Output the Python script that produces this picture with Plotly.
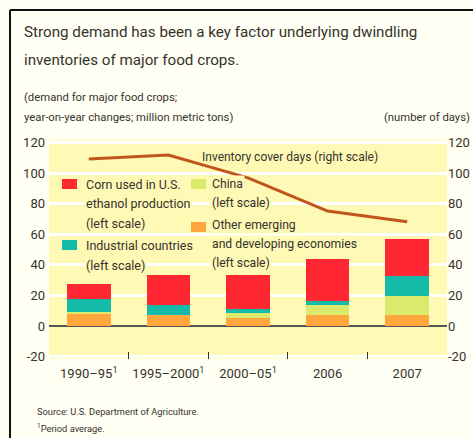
import plotly.graph_objects as go

# ---- data ----
categories = ["1990–95<sup>1</sup>", "1995–2000<sup>1</sup>", "2000–05<sup>1</sup>", "2006", "2007"]
other_emerging = [8.3, 7.0, 5.4, 7.2, 7.2]
china = [0.8, 0.0, 2.9, 6.7, 12.6]
industrial = [8.5, 6.8, 3.0, 2.6, 12.9]
corn_ethanol = [10.0, 19.6, 22.0, 27.1, 24.4]
inventory_days = [109.4, 112.0, 97.0, 75.3, 68.3]
y_ticks = [-20, 0, 20, 40, 60, 80, 100, 120]

# ---- style ----
W, H = 473, 438
L, R, T, B = 49, 447, 140, 359
PLOT_BG = "#FFF9B6"
PAPER_BG = "#FFFFF3"
TXT = "#36322e"
FONT = "Roboto, Liberation Sans, sans-serif"
C_RED, C_TEAL, C_GREEN, C_ORANGE, C_LINE = "#FF2731", "#14BBA9", "#DBE96C", "#FFA73D", "#C0561C"


def px(x):
    return (x - L) / (R - L)


def py(y):
    return (B - y) / (B - T)


fig = go.Figure()
for name, vals, col in [
    ("Other emerging and developing economies", other_emerging, C_ORANGE),
    ("China", china, C_GREEN),
    ("Industrial countries", industrial, C_TEAL),
    ("Corn used in U.S. ethanol production", corn_ethanol, C_RED),
]:
    fig.add_trace(go.Bar(x=categories, y=vals, name=name, marker=dict(color=col, line=dict(width=0)),
                         showlegend=False))

fig.add_trace(go.Scatter(x=categories, y=inventory_days, yaxis="y2", mode="lines",
                         line=dict(color=C_LINE, width=3), showlegend=False))

yr = [-21.6, 121.8]
fig.update_layout(
    width=W, height=H,
    margin=dict(l=L, r=W - R, t=T, b=H - B, pad=0),
    paper_bgcolor=PAPER_BG, plot_bgcolor=PLOT_BG,
    barmode="stack", bargap=0.45,
    font=dict(family=FONT, color=TXT, size=13),
    xaxis=dict(type="category", ticks="inside", tickson="boundaries", ticklen=7, tickcolor="#333",
               tickwidth=1.2, showgrid=False, showline=False, tickfont=dict(size=13), tickangle=0,
               automargin=False, ticklabelstandoff=5),
    yaxis=dict(range=yr, tickvals=y_ticks, ticktext=[str(v) for v in y_ticks], showgrid=True,
               gridcolor="white", gridwidth=3, zeroline=True, zerolinecolor="#555", zerolinewidth=2,
               showline=False, ticks="", tickfont=dict(size=13), automargin=False, ticklabelstandoff=3),
    yaxis2=dict(range=yr, tickvals=y_ticks, ticktext=[str(v) for v in y_ticks], overlaying="y",
                side="right", showgrid=False, zeroline=False, showline=False, ticks="",
                tickfont=dict(size=13), automargin=False),
)

anns = []


def text(s, x, y, size=12.5, anchor="left", bg=None):
    d = dict(text=s, x=px(x), y=py(y), xref="paper", yref="paper", xanchor=anchor, yanchor="middle",
             showarrow=False, font=dict(size=size, color=TXT, family=FONT), borderpad=1)
    if bg:
        d["bgcolor"] = bg
    anns.append(d)


text("Strong demand has been a key factor underlying dwindling", 22, 32, 15.2)
text("inventories of major food crops.", 22, 60, 15.2)
text("(demand for major food crops;", 22, 97, 11.3)
text("year-on-year changes; million metric tons)", 22, 118, 11.3)
text("(number of days)", 472, 118, 11.3, anchor="right")
text("Inventory cover days (right scale)", 200, 157, 12)

# legend text
for s, y in [("Corn used in U.S.", 184), ("ethanol production", 203), ("(left scale)", 223),
             ("Industrial countries", 245), ("(left scale)", 265)]:
    text(s, 84, y, 12.5, bg=PLOT_BG)
for s, y in [("China", 184), ("(left scale)", 203), ("Other emerging", 225),
             ("and developing economies", 244), ("(left scale)", 263)]:
    text(s, 210, y, 12.2, bg=PLOT_BG)

text("Source: U.S. Department of Agriculture.", 35, 411, 9.3)
text("<sup>1</sup>Period average.", 35, 428, 9.3)

shapes = []
for x0, y0, col in [(62, 179, C_RED), (62, 240, C_TEAL), (191, 179, C_GREEN), (191, 222, C_ORANGE)]:
    shapes.append(dict(type="rect", xref="paper", yref="paper", x0=px(x0), x1=px(x0 + 15),
                       y0=py(y0), y1=py(y0 + 10), fillcolor=col, line=dict(width=0)))
# frame
shapes.append(dict(type="line", xref="paper", yref="paper", x0=px(10), x1=px(10), y0=py(10), y1=py(440),
                   line=dict(color="#111", width=2)))
shapes.append(dict(type="line", xref="paper", yref="paper", x0=px(10), x1=px(475), y0=py(10), y1=py(10),
                   line=dict(color="#111", width=2)))

fig.update_layout(annotations=anns, shapes=shapes)
fig.write_html("out.html", config={"displayModeBar": False},
               post_script="document.body.style.margin='0';document.body.style.padding='0';"
                           "document.documentElement.style.overflow='hidden';")
